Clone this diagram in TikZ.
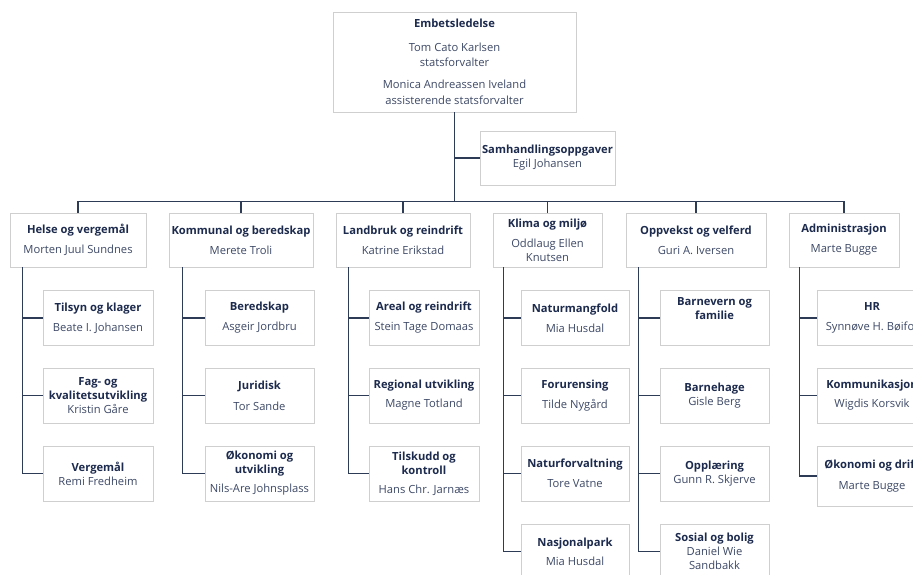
\documentclass[tikz,border=0pt]{standalone}
\usepackage{fontspec}
\setmainfont{Open Sans}
\definecolor{linecol}{HTML}{2E3B57}
\definecolor{boxcol}{HTML}{CFCFCF}
\definecolor{titlecol}{HTML}{1C2A4D}
\definecolor{namecol}{HTML}{3D4966}
\newcommand\nmx[1]{{\color{namecol}#1}}
\tikzset{
  orgbox/.style={draw=boxcol, line width=0.8pt, fill=white, inner sep=0pt, align=center,
    text=titlecol, font=\fontsize{11.2}{14}\selectfont},
  lvtwo/.style={orgbox, minimum height=54pt},
  child/.style={orgbox, minimum height=55pt},
  conn/.style={draw=linecol, line width=1.3pt}
}
\begin{document}
\begin{tikzpicture}[x=1pt,y=-1pt]
\useasboundingbox (0,0) rectangle (913,575);
\fill[white] (0,0) rectangle (913,575);
\clip (0,0) rectangle (913,575);

% top
\node[orgbox, minimum width=243pt, minimum height=100pt] (emb) at (454.5,62)
  {\textbf{Embetsledelse}\\[10pt]\nmx{Tom Cato Karlsen}\\[1pt]\nmx{statsforvalter}\\[8pt]\nmx{Monica Andreassen Iveland}\\[2pt]\nmx{assisterende statsforvalter}};
\node[orgbox, minimum width=135pt, minimum height=54pt] (sam) at (547.5,158)
  {\textbf{Samhandlingsoppgaver}\\\nmx{Egil Johansen}};

% level 2
\node[lvtwo, minimum width=136pt] (hel) at (78,240) {\textbf{Helse og vergemål}\\[6pt]\nmx{Morten Juul Sundnes}};
\node[lvtwo, minimum width=144pt] (kom) at (241,240) {\textbf{Kommunal og beredskap}\\[6pt]\nmx{Merete Troli}};
\node[lvtwo, minimum width=134pt] (lan) at (403,240) {\textbf{Landbruk og reindrift}\\[6pt]\nmx{Katrine Erikstad}};
\node[lvtwo, minimum width=109pt] (kli) at (547.5,240) {\textbf{Klima og miljø}\\[6pt]\nmx{Oddlaug Ellen}\\\nmx{Knutsen}};
\node[lvtwo, minimum width=140pt] (opp) at (696,240) {\textbf{Oppvekst og velferd}\\[6pt]\nmx{Guri A. Iversen}};
\node[lvtwo, minimum width=110pt] (adm) at (844,240) {\textbf{Administrasjon}\\[6pt]\nmx{Marte Bugge}};

% Helse children
\node[child, minimum width=110pt] (h1) at (98,318) {\textbf{Tilsyn og klager}\\[6pt]\nmx{Beate I. Johansen}};
\node[child, minimum width=110pt] (h2) at (98,395.5) {\textbf{Fag- og}\\\textbf{kvalitetsutvikling}\\\nmx{Kristin Gåre}};
\node[child, minimum width=110pt] (h3) at (98,473.5) {\textbf{Vergemål}\\\nmx{Remi Fredheim}};

% Kommunal children
\node[child, minimum width=109pt] (k1) at (259.5,318) {\textbf{Beredskap}\\[6pt]\nmx{Asgeir Jordbru}};
\node[child, minimum width=109pt] (k2) at (259.5,395.5) {\textbf{Juridisk}\\[7pt]\nmx{Tor Sande}};
\node[child, minimum width=109pt] (k3) at (259.5,473.5) {\textbf{Økonomi og}\\\textbf{utvikling}\\[5pt]\nmx{Nils-Are Johnsplass}};

% Landbruk children
\node[child, minimum width=110pt] (l1) at (424,318) {\textbf{Areal og reindrift}\\[6pt]\nmx{Stein Tage Domaas}};
\node[child, minimum width=110pt] (l2) at (424,395.5) {\textbf{Regional utvikling}\\[5pt]\nmx{Magne Totland}};
\node[child, minimum width=110pt] (l3) at (424,473.5) {\textbf{Tilskudd og}\\\textbf{kontroll}\\[5pt]\nmx{Hans Chr. Jarnæs}};

% Klima children
\node[child, minimum width=108pt] (m1) at (575,318) {\textbf{Naturmangfold}\\[6pt]\nmx{Mia Husdal}};
\node[child, minimum width=108pt] (m2) at (575,395.5) {\textbf{Forurensing}\\[6pt]\nmx{Tilde Nygård}};
\node[child, minimum width=108pt] (m3) at (575,473.5) {\textbf{Naturforvaltning}\\[6pt]\nmx{Tore Vatne}};
\node[child, minimum width=108pt] (m4) at (575,551.5) {\textbf{Nasjonalpark}\\[5pt]\nmx{Mia Husdal}};

% Oppvekst children
\node[child, minimum width=109pt] (o1) at (714.5,318) {\textbf{Barnevern og}\\\textbf{familie}\\[6pt]\phantom{X}};
\node[child, minimum width=109pt] (o2) at (714.5,395.5) {\textbf{Barnehage}\\\nmx{Gisle Berg}};
\node[child, minimum width=109pt] (o3) at (714.5,473.5) {\textbf{Opplæring}\\\nmx{Gunn R. Skjerve}};
\node[child, minimum width=109pt] (o4) at (714.5,551.5) {\textbf{Sosial og bolig}\\\nmx{Daniel Wie}\\\nmx{Sandbakk}};

% Administrasjon children
\node[child, minimum width=110pt] (a1) at (872,318) {\textbf{HR}\\[6pt]\nmx{Synnøve H. Bøifot}};
\node[child, minimum width=110pt] (a2) at (872,395.5) {\textbf{Kommunikasjon}\\[5pt]\nmx{Wigdis Korsvik}};
\node[child, minimum width=110pt, minimum height=60pt] (a3) at (872,476) {\textbf{Økonomi og drift}\\[7pt]\nmx{Marte Bugge}};

% connectors top
\coordinate (bus) at ([yshift=11pt]hel.north);
\draw[conn] (emb.south) -- (emb.south |- bus);
\draw[conn] (sam.west) -- (sam.west -| emb.south);
\draw[conn] (hel.north) |- (bus -| adm.north) -- (adm.north);
\foreach \n in {kom,lan,kli,opp}{\draw[conn] (\n.north) -- (\n.north |- bus);}

% trunks
\coordinate (ht) at ([xshift=13pt]hel.south west);
\coordinate (kt) at ([xshift=14pt]kom.south west);
\coordinate (lt) at ([xshift=13pt]lan.south west);
\coordinate (mt) at ([xshift=11pt]kli.south west);
\coordinate (ot) at ([xshift=13pt]opp.south west);
\coordinate (at) at ([xshift=11pt]adm.south west);
\draw[conn] (ht) |- (h3.west);
\draw[conn] (kt) |- (k3.west);
\draw[conn] (lt) |- (l3.west);
\draw[conn] (mt) |- (m4.west);
\draw[conn] (ot) |- (o4.west);
\draw[conn] (at) |- (a3.west);
\foreach \c/\t in {h1/ht,h2/ht,k1/kt,k2/kt,l1/lt,l2/lt,m1/mt,m2/mt,m3/mt,o1/ot,o2/ot,o3/ot,a1/at,a2/at}
  {\draw[conn] (\c.west) -- (\c.west -| \t);}
\end{tikzpicture}
\end{document}
